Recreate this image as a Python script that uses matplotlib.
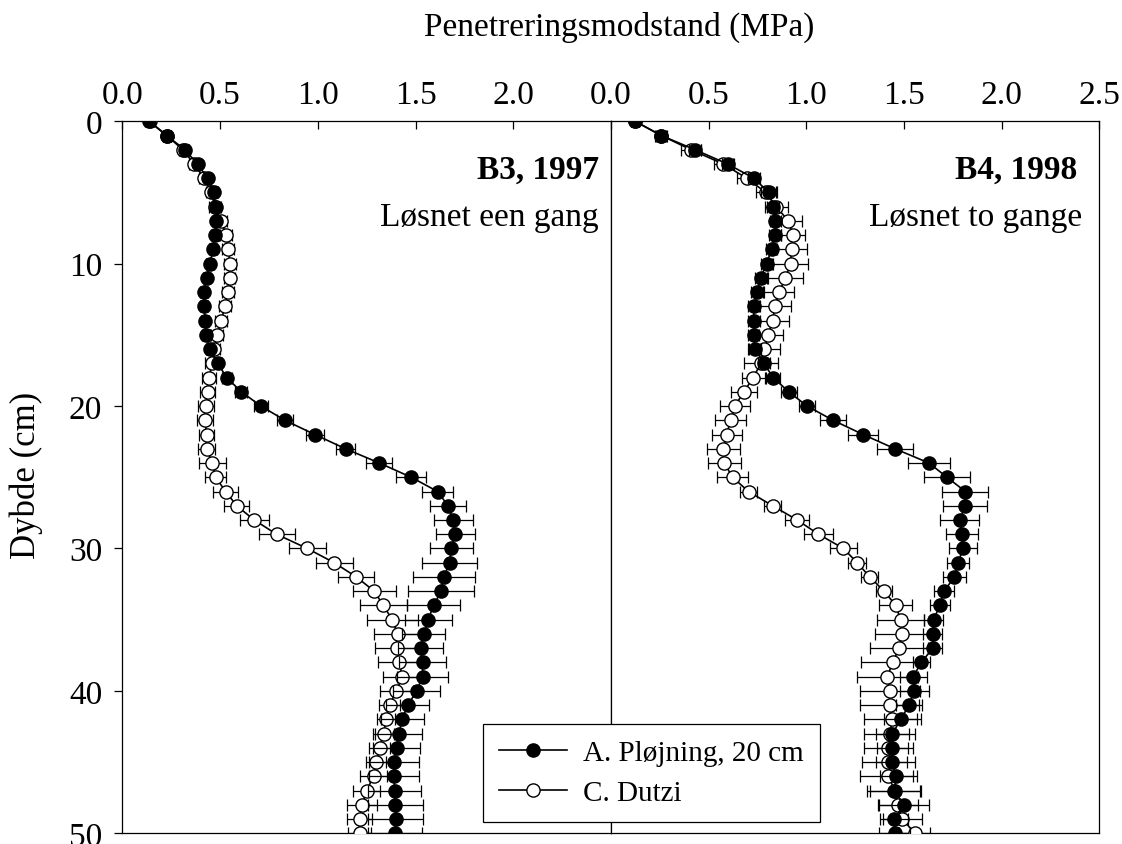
import numpy as np
import matplotlib.pyplot as plt

plt.rcParams['font.family'] = ['Liberation Serif', 'DejaVu Serif']

depth = np.arange(0, 51)

# B3, 1997 - A. Pløjning, 20 cm
b3_plough = [0.136, 0.227, 0.32, 0.385, 0.436, 0.469, 0.477, 0.479, 0.474, 0.465,
             0.447, 0.431, 0.418, 0.419, 0.423, 0.428, 0.448, 0.488, 0.534, 0.609,
             0.709, 0.832, 0.985, 1.142, 1.315, 1.478, 1.613, 1.666, 1.693, 1.703,
             1.683, 1.674, 1.645, 1.630, 1.593, 1.564, 1.543, 1.526, 1.536, 1.536,
             1.506, 1.461, 1.431, 1.415, 1.403, 1.390, 1.390, 1.393, 1.396, 1.398, 1.395]
b3_plough_err = [0.02, 0.02, 0.02, 0.02, 0.02, 0.02, 0.02, 0.02, 0.02, 0.02,
                 0.02, 0.02, 0.02, 0.02, 0.02, 0.02, 0.02, 0.02, 0.025, 0.03,
                 0.036, 0.04, 0.045, 0.047, 0.067, 0.077, 0.08, 0.09, 0.10, 0.10,
                 0.11, 0.14, 0.16, 0.17, 0.136, 0.12, 0.11, 0.115, 0.12, 0.13,
                 0.12, 0.11, 0.11, 0.12, 0.12, 0.13, 0.13, 0.135, 0.14, 0.14, 0.14]

# B3, 1997 - C. Dutzi
b3_dutzi = [0.14, 0.227, 0.31, 0.368, 0.419, 0.454, 0.474, 0.505, 0.532, 0.542,
            0.551, 0.549, 0.539, 0.525, 0.506, 0.486, 0.471, 0.460, 0.443, 0.436,
            0.428, 0.423, 0.431, 0.431, 0.46, 0.477, 0.529, 0.585, 0.675, 0.789,
            0.946, 1.084, 1.197, 1.289, 1.335, 1.381, 1.408, 1.403, 1.417, 1.432,
            1.402, 1.367, 1.349, 1.337, 1.316, 1.299, 1.286, 1.250, 1.226, 1.214, 1.214]
b3_dutzi_err = [0.02, 0.02, 0.02, 0.025, 0.025, 0.025, 0.03, 0.03, 0.03, 0.03,
                0.03, 0.03, 0.03, 0.03, 0.03, 0.03, 0.03, 0.035, 0.035, 0.04,
                0.04, 0.04, 0.04, 0.045, 0.068, 0.055, 0.064, 0.063, 0.073, 0.092,
                0.095, 0.094, 0.092, 0.11, 0.12, 0.13, 0.12, 0.11, 0.107, 0.10,
                0.085, 0.053, 0.047, 0.055, 0.055, 0.051, 0.068, 0.068, 0.078, 0.064, 0.057]

# B4, 1998 - A. Pløjning, 20 cm
b4_plough = [0.123, 0.257, 0.43, 0.597, 0.731, 0.808, 0.830, 0.842, 0.839, 0.822,
             0.796, 0.766, 0.749, 0.731, 0.731, 0.730, 0.738, 0.783, 0.830, 0.910,
             1.004, 1.137, 1.291, 1.454, 1.628, 1.720, 1.814, 1.814, 1.785, 1.797,
             1.802, 1.777, 1.758, 1.705, 1.683, 1.652, 1.647, 1.647, 1.589, 1.547,
             1.552, 1.526, 1.483, 1.441, 1.441, 1.437, 1.461, 1.449, 1.500, 1.448, 1.453]
b4_plough_err = [0.02, 0.025, 0.03, 0.03, 0.03, 0.04, 0.03, 0.03, 0.03, 0.03,
                 0.03, 0.03, 0.03, 0.03, 0.03, 0.03, 0.03, 0.03, 0.035, 0.04,
                 0.04, 0.066, 0.077, 0.09, 0.107, 0.117, 0.117, 0.112, 0.10, 0.08,
                 0.072, 0.058, 0.06, 0.053, 0.05, 0.05, 0.05, 0.05, 0.045, 0.07,
                 0.075, 0.065, 0.085, 0.085, 0.08, 0.08, 0.085, 0.14, 0.13, 0.07, 0.08]

# B4, 1998 - C. Dutzi
b4_dutzi = [0.123, 0.257, 0.41, 0.575, 0.694, 0.793, 0.847, 0.907, 0.932, 0.924,
            0.919, 0.893, 0.861, 0.839, 0.827, 0.805, 0.784, 0.767, 0.728, 0.680,
            0.634, 0.612, 0.592, 0.575, 0.580, 0.622, 0.704, 0.827, 0.953, 1.062,
            1.190, 1.260, 1.325, 1.398, 1.458, 1.482, 1.492, 1.475, 1.442, 1.415,
            1.427, 1.427, 1.441, 1.427, 1.420, 1.420, 1.420, 1.453, 1.470, 1.492, 1.555]
b4_dutzi_err = [0.02, 0.03, 0.05, 0.05, 0.05, 0.05, 0.06, 0.07, 0.06, 0.078,
                0.09, 0.09, 0.077, 0.08, 0.085, 0.077, 0.083, 0.086, 0.06, 0.067,
                0.075, 0.081, 0.077, 0.083, 0.083, 0.081, 0.044, 0.043, 0.06, 0.075,
                0.07, 0.047, 0.043, 0.04, 0.085, 0.12, 0.14, 0.15, 0.16, 0.155,
                0.153, 0.152, 0.145, 0.13, 0.125, 0.136, 0.145, 0.128, 0.104, 0.10, 0.08]

panels = [
    ('B3, 1997', 'Løsnet een gang', b3_plough, b3_plough_err, b3_dutzi, b3_dutzi_err),
    ('B4, 1998', 'Løsnet to gange', b4_plough, b4_plough_err, b4_dutzi, b4_dutzi_err),
]

fig = plt.figure(figsize=(11.22, 8.45), dpi=100)
ax1 = fig.add_axes([0.109, 0.0127, 0.4356, 0.8426])
ax2 = fig.add_axes([0.5446, 0.0127, 0.4352, 0.8426])

handles = []
for ax, (title, sub, pl, pl_err, du, du_err) in zip([ax1, ax2], panels):
    ax.errorbar(du, depth, xerr=du_err, fmt='none', ecolor='black', elinewidth=0.9,
                capsize=4.5, capthick=0.9, zorder=2)
    h2, = ax.plot(du, depth, '-o', color='black', lw=1.2, ms=9.5, mfc='white',
                  mec='black', mew=1.0, zorder=3)
    ax.errorbar(pl, depth, xerr=pl_err, fmt='none', ecolor='black', elinewidth=0.9,
                capsize=4.5, capthick=0.9, zorder=4)
    h1, = ax.plot(pl, depth, '-o', color='black', lw=1.2, ms=9.5, mfc='black',
                  mec='black', mew=1.0, zorder=5)
    handles = [h1, h2]
    ax.set_xlim(0, 2.5)
    ax.set_ylim(50, 0)
    ax.xaxis.tick_top()
    ax.tick_params(axis='x', direction='in', length=6, width=0.9, labelsize=24, pad=8)
    ax.tick_params(axis='y', direction='out', length=5.5, width=0.9, labelsize=24, pad=9)
    for s in ax.spines.values():
        s.set_linewidth(0.9)
    ax.text(0.975 if ax is ax1 else 0.955, 0.932, title, transform=ax.transAxes,
            ha='right', va='center', fontsize=24, fontweight='bold')
    ax.text(0.975 if ax is ax1 else 0.965, 0.866, sub, transform=ax.transAxes,
            ha='right', va='center', fontsize=24)

ax1.set_xticks([0, 0.5, 1.0, 1.5, 2.0])
ax1.set_xticklabels(['0.0', '0.5', '1.0', '1.5', '2.0'])
ax1.set_yticks([0, 10, 20, 30, 40, 50])

ax2.set_xticks([0, 0.5, 1.0, 1.5, 2.0, 2.5])
ax2.set_xticklabels(['0.0', '0.5', '1.0', '1.5', '2.0', '2.5'])
ax2.set_yticks([])

fig.text(0.552, 0.968, 'Penetreringsmodstand (MPa)', ha='center', va='center', fontsize=24)
fig.text(0.023, 0.437, 'Dybde (cm)', ha='center', va='center', rotation=90, fontsize=25)

leg = fig.legend(handles, ['A. Pløjning, 20 cm', 'C. Dutzi'], loc='lower left',
                 bbox_to_anchor=(0.4302, 0.026), borderaxespad=0, fontsize=21,
                 frameon=True, fancybox=False, edgecolor='black', framealpha=1,
                 handlelength=2.35, handletextpad=0.55, borderpad=0.55, labelspacing=0.45)
leg.get_frame().set_linewidth(0.9)

fig.savefig('out.png', dpi=100)
